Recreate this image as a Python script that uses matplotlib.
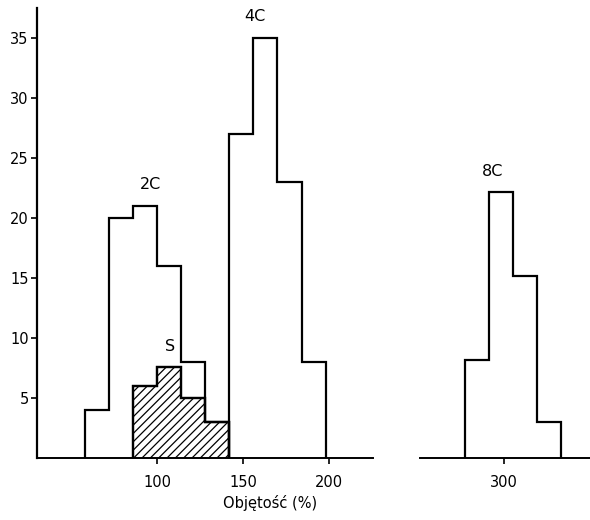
import matplotlib
matplotlib.use("Agg")
import matplotlib.pyplot as plt

# bin edges (volume, %) and counts
edges_2c = [58, 72, 86, 100, 114, 128, 142]
counts_2c = [4, 20, 21, 16, 8, 3]
edges_s = [86, 100, 114, 128, 142]
counts_s = [6, 7.6, 5, 3]
edges_4c = [142, 156, 170, 184, 198]
counts_4c = [27, 35, 23, 8]
edges_8c = [277, 291, 305, 319, 333]
counts_8c = [8.2, 22.2, 15.2, 3]

yticks = [5, 10, 15, 20, 25, 30, 35]
xticks_left = [100, 150, 200]
xticks_right = [300]

plt.rcParams["hatch.linewidth"] = 0.9
LW = 1.6
FS = 10.5

fig = plt.figure(figsize=(5.9, 5.2), dpi=100)
ax1 = fig.add_axes([37 / 590, 62 / 520, (373 - 37) / 590, (458 - 8) / 520])
ax2 = fig.add_axes([420 / 590, 62 / 520, (590 - 420) / 590, (458 - 8) / 520])

ax1.stairs(counts_s, edges_s, fill=True, facecolor="white", edgecolor="black",
           hatch="////", linewidth=LW)
ax1.stairs(counts_s, edges_s, color="black", linewidth=LW)
ax1.stairs(counts_2c, edges_2c, color="black", linewidth=LW)
ax1.stairs(counts_4c, edges_4c, color="black", linewidth=LW)
ax2.stairs(counts_8c, edges_8c, color="black", linewidth=LW)

ax1.set_xlim(30, 225.6)
ax2.set_xlim(251, 350)
for ax in (ax1, ax2):
    ax.set_ylim(0, 37.5)
    ax.spines["top"].set_visible(False)
    ax.spines["right"].set_visible(False)
    ax.spines["bottom"].set_linewidth(1.4)
    ax.tick_params(axis="x", direction="out", length=4, width=1.2, labelsize=FS, pad=8)
ax2.spines["left"].set_visible(False)
ax2.set_yticks([])
ax1.spines["left"].set_linewidth(1.6)
ax1.set_yticks(yticks)
ax1.tick_params(axis="y", direction="out", length=4, width=1.2, labelsize=FS, pad=2)
ax1.set_xticks(xticks_left)
ax2.set_xticks(xticks_right)

ax1.text(96, 22.8, "2C", ha="center", va="center", fontsize=FS + 1)
ax1.text(107.5, 9.3, "S", ha="center", va="center", fontsize=FS + 1)
ax1.text(157, 36.8, "4C", ha="center", va="center", fontsize=FS + 1)
ax2.text(293, 23.9, "8C", ha="center", va="center", fontsize=FS + 1)

fig.text(270 / 590, 1 - 503 / 520, "Objętość (%)", ha="center", va="center", fontsize=FS)

fig.savefig("out.png", dpi=100)
